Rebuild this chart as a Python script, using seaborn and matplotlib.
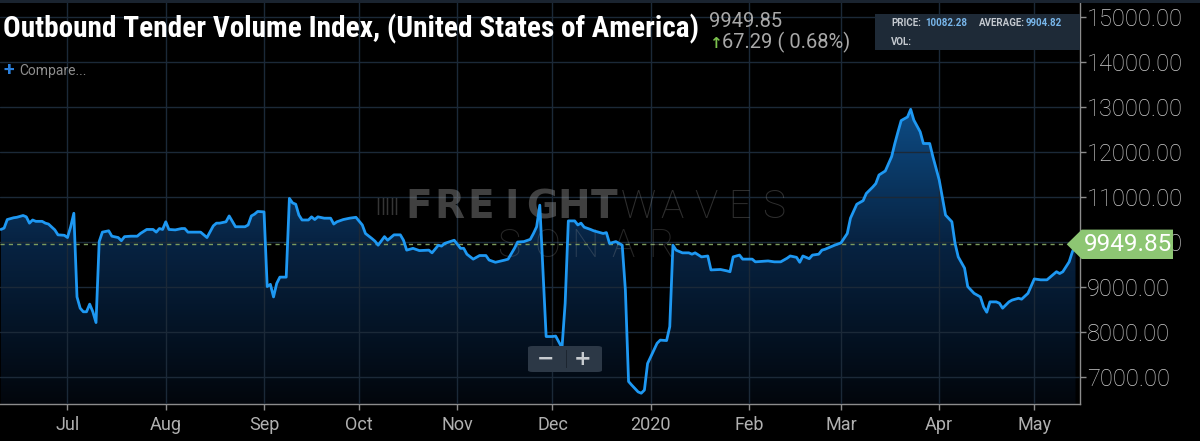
import matplotlib
matplotlib.use("Agg")
import matplotlib.pyplot as plt
import matplotlib.dates as mdates
from matplotlib.colors import LinearSegmentedColormap
from matplotlib.patches import Polygon, Rectangle, FancyBboxPatch
from matplotlib.ticker import FuncFormatter
from matplotlib import font_manager
import numpy as np
import pandas as pd
import seaborn as sns

# --- data (daily-ish samples) ---
dates = [
    "2019-06-10", "2019-06-11", "2019-06-12", "2019-06-14", "2019-06-15", "2019-06-17", "2019-06-18",
    "2019-06-19", "2019-06-20", "2019-06-21", "2019-06-23", "2019-06-24", "2019-06-25", "2019-06-27",
    "2019-06-28", "2019-06-30",
    "2019-07-01", "2019-07-02", "2019-07-03", "2019-07-04", "2019-07-05", "2019-07-06", "2019-07-07",
    "2019-07-08", "2019-07-09", "2019-07-10", "2019-07-11", "2019-07-12", "2019-07-14", "2019-07-15",
    "2019-07-17", "2019-07-18", "2019-07-19", "2019-07-21", "2019-07-23", "2019-07-24", "2019-07-26",
    "2019-07-28", "2019-07-29", "2019-07-30", "2019-07-31",
    "2019-08-01", "2019-08-02", "2019-08-04", "2019-08-06", "2019-08-07", "2019-08-08", "2019-08-12",
    "2019-08-13", "2019-08-14", "2019-08-16", "2019-08-17", "2019-08-18", "2019-08-20", "2019-08-21",
    "2019-08-23", "2019-08-26", "2019-08-27", "2019-08-28", "2019-08-29", "2019-08-30",
    "2019-09-01", "2019-09-02", "2019-09-03", "2019-09-04", "2019-09-05", "2019-09-06", "2019-09-08",
    "2019-09-09", "2019-09-10", "2019-09-11", "2019-09-12", "2019-09-13", "2019-09-15", "2019-09-16",
    "2019-09-17", "2019-09-18", "2019-09-20", "2019-09-22", "2019-09-23", "2019-09-24", "2019-09-26",
    "2019-09-28", "2019-09-30",
    "2019-10-02", "2019-10-03", "2019-10-05", "2019-10-06", "2019-10-07", "2019-10-09", "2019-10-10",
    "2019-10-11", "2019-10-12", "2019-10-14", "2019-10-15", "2019-10-16", "2019-10-18", "2019-10-20",
    "2019-10-23", "2019-10-24", "2019-10-26", "2019-10-27", "2019-10-28", "2019-10-31",
    "2019-11-02", "2019-11-03", "2019-11-04", "2019-11-06", "2019-11-08", "2019-11-10", "2019-11-11",
    "2019-11-13", "2019-11-16", "2019-11-17", "2019-11-19", "2019-11-20", "2019-11-22", "2019-11-24",
    "2019-11-25", "2019-11-26", "2019-11-27", "2019-11-29",
    "2019-12-01", "2019-12-02", "2019-12-04", "2019-12-05", "2019-12-06", "2019-12-08", "2019-12-09",
    "2019-12-10", "2019-12-11", "2019-12-13", "2019-12-14", "2019-12-17", "2019-12-18", "2019-12-19",
    "2019-12-21", "2019-12-22", "2019-12-23", "2019-12-24", "2019-12-25", "2019-12-26", "2019-12-28",
    "2019-12-29", "2019-12-30", "2019-12-31",
    "2020-01-01", "2020-01-03", "2020-01-04", "2020-01-06", "2020-01-07", "2020-01-08", "2020-01-09",
    "2020-01-11", "2020-01-13", "2020-01-14", "2020-01-15", "2020-01-17", "2020-01-19", "2020-01-20",
    "2020-01-23", "2020-01-25", "2020-01-26", "2020-01-27", "2020-01-29", "2020-01-30",
    "2020-02-02", "2020-02-03", "2020-02-07", "2020-02-09", "2020-02-11", "2020-02-13", "2020-02-14",
    "2020-02-16", "2020-02-17", "2020-02-18", "2020-02-20", "2020-02-21", "2020-02-23", "2020-02-24",
    "2020-02-25", "2020-02-27", "2020-02-28",
    "2020-03-01", "2020-03-03", "2020-03-04", "2020-03-06", "2020-03-08", "2020-03-09", "2020-03-11",
    "2020-03-12", "2020-03-13", "2020-03-15", "2020-03-17", "2020-03-18", "2020-03-19", "2020-03-20",
    "2020-03-22", "2020-03-23", "2020-03-24", "2020-03-26", "2020-03-27", "2020-03-29", "2020-03-30",
    "2020-04-01", "2020-04-03", "2020-04-05", "2020-04-06", "2020-04-07", "2020-04-09", "2020-04-10",
    "2020-04-12", "2020-04-14", "2020-04-15", "2020-04-16", "2020-04-17", "2020-04-19", "2020-04-20",
    "2020-04-21", "2020-04-23", "2020-04-24", "2020-04-26", "2020-04-27", "2020-04-29",
    "2020-05-01", "2020-05-03", "2020-05-05", "2020-05-08", "2020-05-09", "2020-05-10", "2020-05-12",
    "2020-05-13", "2020-05-14",
]
values = [
    10280, 10310, 10500, 10540, 10550, 10590, 10560, 10420, 10490, 10460, 10460, 10420, 10400, 10270,
    10160, 10150,
    10100, 10340, 10640, 8780, 8530, 8450, 8450, 8620, 8450, 8210, 10010, 10220, 10250, 10130,
    10100, 10030, 10120, 10130, 10130, 10190, 10280, 10280, 10220, 10300, 10280,
    10450, 10280, 10270, 10300, 10300, 10220, 10220, 10160, 10100, 10360, 10420, 10420, 10450, 10580,
    10340, 10340, 10380, 10580, 10620, 10680,
    10670, 9010, 9060, 8780, 9080, 9220, 9220, 10970, 10870, 10840, 10600, 10490, 10490, 10560,
    10500, 10560, 10530, 10530, 10400, 10450, 10500, 10530, 10550,
    10380, 10190, 10080, 10020, 9930, 10120, 10040, 10100, 10160, 10160, 10040, 9820, 9860, 9810,
    9820, 9760, 9930, 9910, 9970, 10040,
    9860, 9860, 9730, 9620, 9700, 9700, 9600, 9550, 9600, 9620, 9860, 10000, 10010, 10060,
    10190, 10340, 10820, 7900,
    7900, 7910, 7650, 8640, 10470, 10470, 10380, 10420, 10330, 10280, 10250, 10190, 10210, 9970,
    10010, 9970, 9930, 8930, 6900, 6820, 6670, 6640, 6710, 7300,
    7450, 7750, 7820, 7810, 8120, 9930, 9820, 9760, 9760, 9730, 9760, 9670, 9690, 9380,
    9390, 9360, 9340, 9670, 9710, 9620,
    9620, 9560, 9580, 9560, 9560, 9640, 9690, 9660, 9550, 9690, 9630, 9710, 9730, 9820,
    9840, 9900, 9930,
    9980, 10190, 10530, 10840, 10920, 11080, 11220, 11300, 11490, 11580, 11900, 12190, 12450, 12700,
    12780, 12950, 12710, 12450, 12190, 12190, 11900,
    11380, 10600, 10450, 9970, 9670, 9420, 9010, 8860, 8780, 8560, 8440, 8670, 8670, 8640,
    8530, 8670, 8710, 8750, 8730, 8860,
    9180, 9160, 9160, 9340, 9300, 9340, 9560, 9780, 9949.85,
]

month_ticks = ["2019-07-01", "2019-08-01", "2019-09-01", "2019-10-01", "2019-11-01", "2019-12-01",
               "2020-01-01", "2020-02-01", "2020-03-01", "2020-04-01", "2020-05-01"]
month_labels = ["Jul", "Aug", "Sep", "Oct", "Nov", "Dec", "2020", "Feb", "Mar", "Apr", "May"]
y_ticks = [7000, 8000, 9000, 10000, 11000, 12000, 13000, 14000, 15000]

last_value = 9949.85
change = 67.29
change_pct = 0.68
price = 10082.28
average = 9904.82
title = "Outbound Tender Volume Index, (United States of America)"

df = pd.DataFrame({"date": pd.to_datetime(dates), "value": values})

sns.set_theme(style="dark", rc={
    "axes.facecolor": "#000000",
    "figure.facecolor": "#000000",
    "savefig.facecolor": "#000000",
})
plt.rcParams["font.family"] = ["Roboto", "DejaVu Sans"]

W, H = 1200, 441
fig = plt.figure(figsize=(12, 4.41), dpi=100)

def fx(x):
    return x / W

def fy(y):
    return 1 - y / H

ax_bottom = fy(404)
ax_height = 1 - ax_bottom
ax = fig.add_axes([0, ax_bottom, fx(1080), ax_height])

xmin = pd.Timestamp("2019-06-09 17:00")
xmax = pd.Timestamp("2020-05-15 10:00")
ymin, ymax = 6400, 15380

# gradient fill under the line
cmap = LinearSegmentedColormap.from_list(
    "sonar_fill",
    [(0.0, "#02060c"), (0.41, "#072444"), (0.75, "#0e4e88"), (1.0, "#1462a6")])
grad = np.linspace(ymin, ymax, 500).reshape(-1, 1)
im = ax.imshow(grad, extent=[mdates.date2num(xmin), mdates.date2num(xmax), ymin, ymax],
               origin="lower", aspect="auto", cmap=cmap, vmin=ymin, vmax=ymax, zorder=1)
poly = ax.fill_between(df["date"], df["value"], ymin, facecolor="none", edgecolor="none")
im.set_clip_path(poly.get_paths()[0], transform=ax.transData)

sns.lineplot(data=df, x="date", y="value", color="#1e98f2", linewidth=2.0, ax=ax, zorder=4)

ax.axhline(last_value, xmin=0, xmax=1066 / 1080, color="#7d9c5e", lw=1, ls=(0, (3, 3)), zorder=3)

ax.set_xlim(xmin, xmax)
ax.set_ylim(ymin, ymax)
ax.set_xlabel("")
ax.set_ylabel("")

ax.set_xticks(pd.to_datetime(month_ticks))
ax.set_xticklabels(month_labels)
ax.set_yticks(y_ticks)
ax.yaxis.set_major_formatter(FuncFormatter(lambda v, _: f"{v:.2f}"))
ax.yaxis.tick_right()

ax.grid(True, color="#1b2938", lw=1)
ax.set_axisbelow(False)
for line in ax.get_xgridlines() + ax.get_ygridlines():
    line.set_zorder(2)

for side in ["left", "top"]:
    ax.spines[side].set_visible(False)
for side in ["right", "bottom"]:
    ax.spines[side].set_visible(True)
    ax.spines[side].set_color("#8c8c8c")
    ax.spines[side].set_linewidth(1)

ax.tick_params(axis="y", direction="out", length=4, width=1, color="#8c8c8c",
               labelcolor="#cccccc", labelsize=17, pad=1, right=True, left=False)
ax.tick_params(axis="x", direction="out", length=4, width=1, color="#8c8c8c",
               labelcolor="#b0b0b0", labelsize=13, pad=5, bottom=True)
for lbl in ax.get_yticklabels():
    lbl.set_fontweight("light")

# watermark, letters spread out like the wide logo type
def spaced(word, x0, x1, y, **kw):
    step = (x1 - x0) / len(word)
    for i, ch in enumerate(word):
        ax.text(fx(x0 + (i + 0.5) * step), fy(y), ch, transform=fig.transFigure,
                ha="center", va="center", zorder=3, **kw)

spaced("FREIGHT", 403, 620, 207, color="#9a9a9a", alpha=0.42, fontsize=28,
       fontweight="bold", family=["DejaVu Sans"])
spaced("WAVES", 622, 790, 207, color="#9a9a9a", alpha=0.3, fontsize=28, fontweight="light")
spaced("SONAR", 490, 680, 246, color="#9a9a9a", alpha=0.25, fontsize=28, fontweight="light")
for i in range(5):
    ax.text(fx(378 + i * 4.5), fy(207), "|", transform=fig.transFigure, ha="center",
            va="center", color="#9a9a9a", alpha=0.35, fontsize=15, zorder=3)

# top strip
fig.add_artist(Rectangle((0, fy(3)), 1, 3 / H, transform=fig.transFigure,
                         facecolor="#1a2430", edgecolor="none"))

# title block
names = {f.name for f in font_manager.fontManager.ttflist}
title_family = "Roboto"
for cand in ["Roboto Condensed", "Liberation Sans Narrow", "DejaVu Sans Condensed"]:
    if cand in names:
        title_family = cand
        break
t = fig.text(fx(3), fy(37), title, color="#ffffff", fontsize=19, fontweight="bold",
             family=[title_family], va="baseline", ha="left")
fig.canvas.draw()
w = t.get_window_extent(fig.canvas.get_renderer()).width
t.set_fontsize(19 * 694 / w)

fig.text(fx(709), fy(27), f"{last_value:.2f}", color="#a8a8a8", fontsize=14.5,
         va="baseline", ha="left")
fig.text(fx(709), fy(48), "\u2191", color="#7cc24e", fontsize=11, fontweight="bold",
         family=["DejaVu Sans"], va="baseline", ha="left")
fig.text(fx(722), fy(48), f"{change:.2f} ( {change_pct:.2f}%)", color="#a8a8a8",
         fontsize=14.5, va="baseline", ha="left")

fig.text(fx(3), fy(70), "+", color="#2b80dc", fontsize=14, fontweight="bold",
         va="center", ha="left")
fig.text(fx(19), fy(71), "Compare...", color="#8e8e8e", fontsize=10, va="center", ha="left")

# price box
fig.add_artist(Rectangle((fx(875), fy(50)), fx(205), 36 / H, transform=fig.transFigure,
                         facecolor="#1e2a37", edgecolor="none"))
box_kw = dict(fontsize=7, va="center", ha="left", fontweight="bold")
fig.text(fx(891), fy(23), "PRICE:", color="#c4c9cf", **box_kw)
fig.text(fx(925), fy(23), f"{price:.2f}", color="#78b6ea", **box_kw)
fig.text(fx(979), fy(23), "AVERAGE:", color="#c4c9cf", **box_kw)
fig.text(fx(1026), fy(23), f"{average:.2f}", color="#78b6ea", **box_kw)
fig.text(fx(891), fy(42), "VOL:", color="#c4c9cf", **box_kw)

# zoom buttons
fig.add_artist(FancyBboxPatch((fx(528), fy(372)), fx(74), 26 / H, transform=fig.transFigure,
                              boxstyle="round,pad=0,rounding_size=0.004",
                              facecolor="#2c3846", edgecolor="none"))
fig.add_artist(Rectangle((fx(566), fy(368)), 1 / W, 18 / H, transform=fig.transFigure,
                         facecolor="#1c2530", edgecolor="none"))
fig.text(fx(546), fy(359), "\u2212", color="#c8ccd0", fontsize=15, fontweight="bold",
         family=["DejaVu Sans"], ha="center", va="center")
fig.text(fx(583), fy(359), "+", color="#c8ccd0", fontsize=15, fontweight="bold",
         family=["DejaVu Sans"], ha="center", va="center")

# last value marker on the price axis
yc = ax_bottom + (last_value - ymin) / (ymax - ymin) * ax_height
hh = 14.7 / H
marker = Polygon([(fx(1066.7), yc), (fx(1081.7), yc + hh), (fx(1173), yc + hh),
                  (fx(1173), yc - hh), (fx(1081.7), yc - hh)], closed=True,
                 transform=fig.transFigure, facecolor="#8dc673", edgecolor="none")
fig.add_artist(marker)
fig.text(fx(1084), yc, f"{last_value:.2f}", color="#ffffff", fontsize=17.5,
         va="center", ha="left")

fig.savefig("out.png", dpi=100, facecolor="#000000")
